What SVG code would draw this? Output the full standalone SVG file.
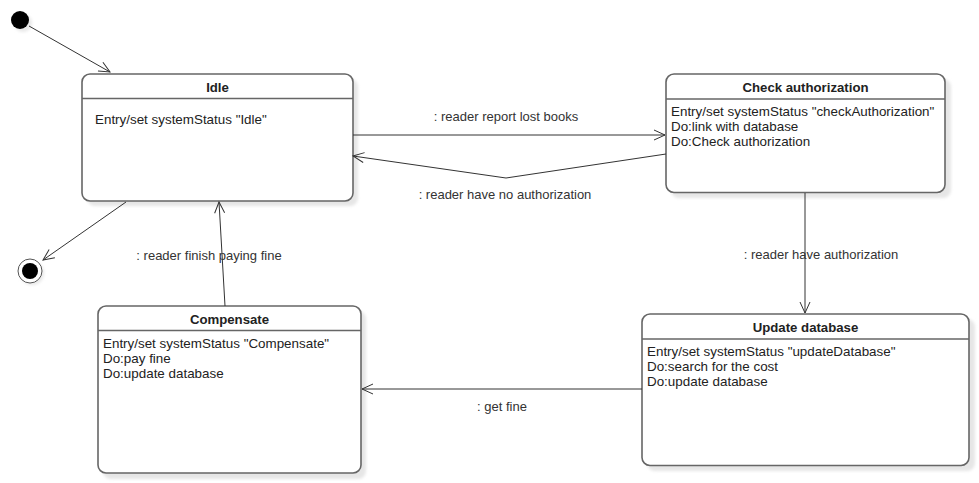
<svg xmlns="http://www.w3.org/2000/svg" width="979" height="483" viewBox="0 0 979 483">
<defs>
<marker id="arr" markerWidth="14" markerHeight="14" refX="12" refY="6" orient="auto" markerUnits="userSpaceOnUse">
<path d="M1,1 L12,6 L1,11" fill="none" stroke="#333" stroke-width="1"/>
</marker>
<filter id="sh" x="-10%" y="-10%" width="130%" height="130%">
<feGaussianBlur stdDeviation="1.5"/>
</filter>
</defs>
<style>
.box{fill:#fff;stroke:#666;stroke-width:1.6}
.shadow{fill:#e6e6e6;filter:url(#sh)}
.div{stroke:#666;stroke-width:1.6}
.title{font-family:"Liberation Sans",Arial,sans-serif;font-size:13.2px;font-weight:bold;fill:#222;text-anchor:middle}
.txt{font-family:"Liberation Sans",Arial,sans-serif;font-size:13.4px;fill:#222}
.lbl{font-family:"Liberation Sans",Arial,sans-serif;font-size:13px;fill:#333;text-anchor:middle}
.edge{fill:none;stroke:#333;stroke-width:1;marker-end:url(#arr)}
</style>
<rect width="979" height="483" fill="#fff"/>

<g id="initial">
<circle cx="23" cy="23" r="9" fill="#e8e8e8" filter="url(#sh)"/>
<circle cx="20" cy="20" r="9" fill="#000"/>
</g>

<g id="final">
<circle cx="32" cy="273" r="12" fill="#e8e8e8" filter="url(#sh)"/>
<circle cx="30" cy="271" r="12" fill="#fff" stroke="#555" stroke-width="1"/>
<circle cx="30" cy="271" r="8" fill="#000"/>
</g>

<g id="idle">
<rect class="shadow" x="87" y="79" width="271" height="127" rx="8"/>
<rect class="box" x="82" y="74" width="271" height="127" rx="8"/>
<line class="div" x1="82" y1="98.5" x2="353" y2="98.5"/>
<text class="title" x="217.5" y="92">Idle</text>
<text class="txt" x="95" y="124">Entry/set systemStatus "Idle"</text>
</g>

<g id="check">
<rect class="shadow" x="671" y="79" width="280" height="119" rx="8"/>
<rect class="box" x="666" y="74" width="279" height="118.5" rx="8"/>
<line class="div" x1="666" y1="99" x2="945" y2="99"/>
<text class="title" x="805.5" y="92">Check authorization</text>
<text class="txt" x="671" y="116">Entry/set systemStatus "checkAuthorization"</text>
<text class="txt" x="671" y="131">Do:link with database</text>
<text class="txt" x="671" y="146">Do:Check authorization</text>
</g>

<g id="update">
<rect class="shadow" x="647" y="319" width="328" height="152" rx="8"/>
<rect class="box" x="642" y="314" width="327" height="151.5" rx="8"/>
<line class="div" x1="642" y1="339" x2="969" y2="339"/>
<text class="title" x="805.5" y="332">Update database</text>
<text class="txt" x="647" y="356">Entry/set systemStatus "updateDatabase"</text>
<text class="txt" x="647" y="371">Do:search for the cost</text>
<text class="txt" x="647" y="386">Do:update database</text>
</g>

<g id="compensate">
<rect class="shadow" x="103" y="311" width="263" height="168" rx="8"/>
<rect class="box" x="98" y="306" width="263" height="167" rx="8"/>
<line class="div" x1="98" y1="330.5" x2="361" y2="330.5"/>
<text class="title" x="229.5" y="324">Compensate</text>
<text class="txt" x="103" y="348">Entry/set systemStatus "Compensate"</text>
<text class="txt" x="103" y="363">Do:pay fine</text>
<text class="txt" x="103" y="378">Do:update database</text>
</g>

<g id="connectors">
<line class="edge" x1="29" y1="26" x2="110" y2="72"/>
<line class="edge" x1="126" y1="202" x2="43" y2="260"/>
<line class="edge" x1="225" y1="306" x2="219" y2="202"/>
<line class="edge" x1="353" y1="135" x2="665" y2="135"/>
<polyline class="edge" points="666,154 506,178 353,156"/>
<line class="edge" x1="805" y1="193" x2="805" y2="313"/>
<line class="edge" x1="642" y1="389" x2="362" y2="389"/>
<text class="lbl" x="506" y="121">: reader report lost books</text>
<text class="lbl" x="505" y="199">: reader have no authorization</text>
<text class="lbl" x="821" y="259">: reader have authorization</text>
<text class="lbl" x="209" y="260">: reader finish paying fine</text>
<text class="lbl" x="502" y="411">: get fine</text>
</g>
</svg>
